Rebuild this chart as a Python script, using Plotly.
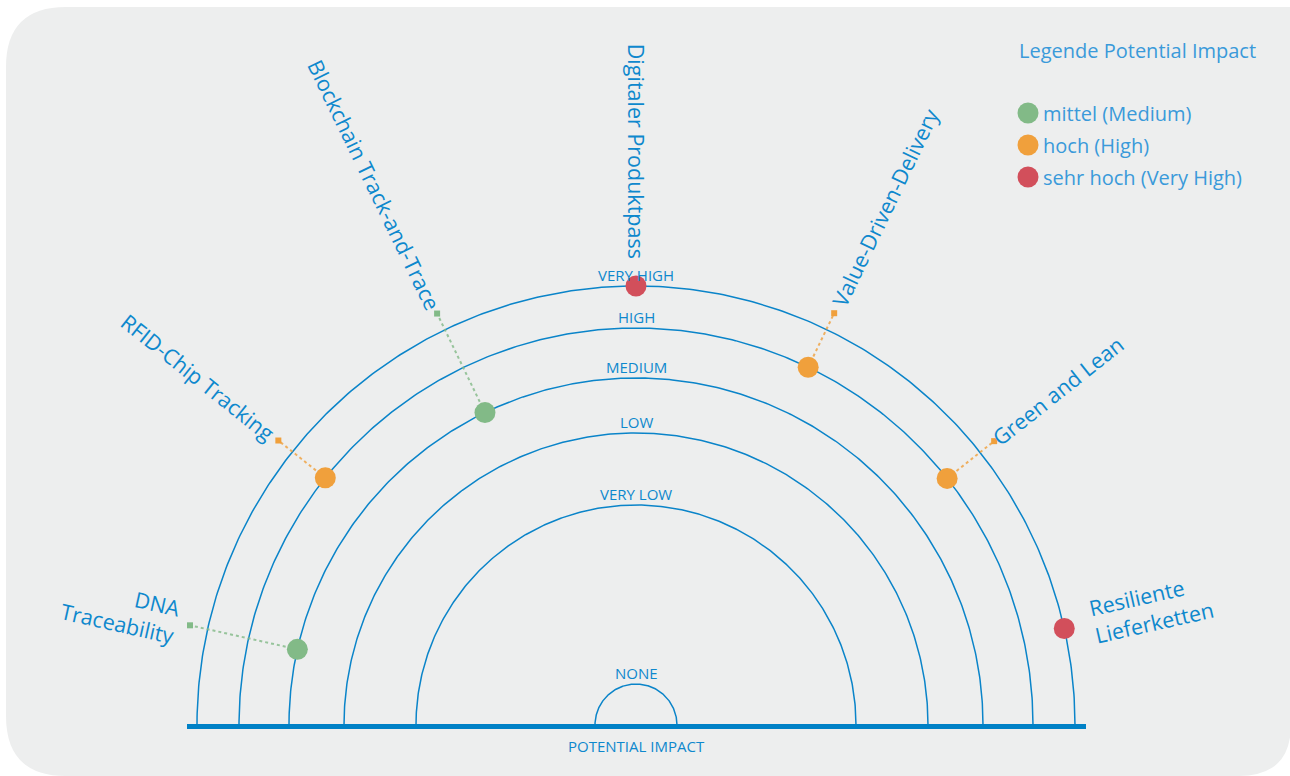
import numpy as np
import plotly.graph_objects as go

# ---------------- data ----------------
levels = ["NONE", "VERY LOW", "LOW", "MEDIUM", "HIGH", "VERY HIGH"]

items = ["DNA<br>Traceability", "RFID-Chip Tracking", "Blockchain Track-and-Trace",
         "Digitaler Produktpass", "Value-Driven-Delivery", "Green and Lean",
         "Resiliente<br>Lieferketten"]
impact = ["MEDIUM", "HIGH", "MEDIUM", "VERY HIGH", "HIGH", "HIGH", "VERY HIGH"]
angle_deg = [167.4, 141.5, 115.8, 90.0, 64.3, 38.4, 12.7]

legend_title = "Legende Potential Impact"
legend_labels = ["mittel (Medium)", "hoch (High)", "sehr hoch (Very High)"]
legend_levels = ["MEDIUM", "HIGH", "VERY HIGH"]
axis_title = "POTENTIAL IMPACT"

# ---------------- layout / style ----------------
W, H = 1290, 776
CX, CY = 636, 725                      # pixel position of the arc centre
level_radius = dict(zip(levels, [41, 220, 292, 347, 397, 439]))
colors = {"MEDIUM": "#82BA87", "HIGH": "#F0A03C", "VERY HIGH": "#D24F5B"}
LINE = "#0A84C9"
TEXT = "#0E88CD"
LEG_TEXT = "#3A9ADA"
FONT = "Open Sans"
CONNECT_R = 457
LABEL_R0 = 467
LABEL_SIZE = 21.5
CHAR_EM = 0.475


def px(x):
    return x - CX


def py(y):
    return CY - y


fig = go.Figure()

# background card (rounded)
L, T, R, B = px(6), py(7), px(1291), py(776)
r1, r2 = 60, 52
path = (f"M {L+r1},{T} L {R},{T} L {R},{B+r2} "
        f"Q {R},{B} {R-r2},{B} L {L+r1},{B} Q {L},{B} {L},{B+r1} "
        f"L {L},{T-r1} Q {L},{T} {L+r1},{T} Z")
fig.add_shape(type="path", path=path, fillcolor="#EDEEEE", line=dict(width=0),
              layer="below", xref="x", yref="y")

# arcs
th = np.linspace(0, np.pi, 361)
for lv in levels:
    r = level_radius[lv]
    fig.add_trace(go.Scatter(x=r * np.cos(th), y=r * np.sin(th), mode="lines",
                             line=dict(color=LINE, width=1.5), hoverinfo="skip",
                             showlegend=False))
    fig.add_annotation(x=0, y=r + 11, text=lv, showarrow=False, xanchor="center",
                       yanchor="middle", font=dict(family=FONT, size=15, color=TEXT))

# baseline
fig.add_trace(go.Scatter(x=[px(187), px(1086)], y=[-1.5, -1.5], mode="lines",
                         line=dict(color="#0081C6", width=5), hoverinfo="skip",
                         showlegend=False))
fig.add_annotation(x=0, y=-21, text=axis_title, showarrow=False, xanchor="center",
                   yanchor="middle", font=dict(family=FONT, size=15, color=TEXT))

# items
for name, lv, a in zip(items, impact, angle_deg):
    t = np.deg2rad(a)
    r = level_radius[lv]
    c = colors[lv]
    if lv != "VERY HIGH":
        fig.add_trace(go.Scatter(x=[r * np.cos(t), CONNECT_R * np.cos(t)],
                                 y=[r * np.sin(t), CONNECT_R * np.sin(t)],
                                 mode="lines", line=dict(color=c, width=2, dash="dot"),
                                 opacity=0.8, hoverinfo="skip", showlegend=False))
        fig.add_trace(go.Scatter(x=[CONNECT_R * np.cos(t)], y=[CONNECT_R * np.sin(t)],
                                 mode="markers",
                                 marker=dict(symbol="square", size=6, color=c),
                                 hoverinfo="skip", showlegend=False))
    fig.add_trace(go.Scatter(x=[r * np.cos(t)], y=[r * np.sin(t)], mode="markers",
                             marker=dict(size=21, color=c, line=dict(width=0)),
                             name=name.replace("<br>", " "), showlegend=False))
    longest = max(len(s) for s in name.split("<br>"))
    rl = LABEL_R0 + longest * CHAR_EM * LABEL_SIZE / 2
    if a >= 90:
        tang = 180 - a
        align = "right"
    else:
        tang = -a
        align = "left"
    fig.add_annotation(x=rl * np.cos(t), y=rl * np.sin(t), text=name, showarrow=False,
                       textangle=tang, align=align, xanchor="center", yanchor="middle",
                       font=dict(family=FONT, size=LABEL_SIZE, color=TEXT))

# legend
fig.add_annotation(x=px(1017), y=py(50), text=legend_title, showarrow=False,
                   xanchor="left", yanchor="middle",
                   font=dict(family=FONT, size=20, color=LEG_TEXT))
for i, (lab, lv) in enumerate(zip(legend_labels, legend_levels)):
    yy = py(113 + 32 * i)
    fig.add_trace(go.Scatter(x=[px(1028)], y=[yy], mode="markers",
                             marker=dict(size=21, color=colors[lv]),
                             hoverinfo="skip", showlegend=False))
    fig.add_annotation(x=px(1041), y=yy, text=lab, showarrow=False, xanchor="left",
                       yanchor="middle", font=dict(family=FONT, size=20, color=LEG_TEXT))

fig.update_layout(
    width=W, height=H, margin=dict(l=0, r=0, t=0, b=0),
    paper_bgcolor="white", plot_bgcolor="rgba(0,0,0,0)",
    xaxis=dict(range=[px(0), px(W)], visible=False, fixedrange=True),
    yaxis=dict(range=[py(H), py(0)], visible=False, fixedrange=True),
    showlegend=False,
)

fig.write_html("out.html")
